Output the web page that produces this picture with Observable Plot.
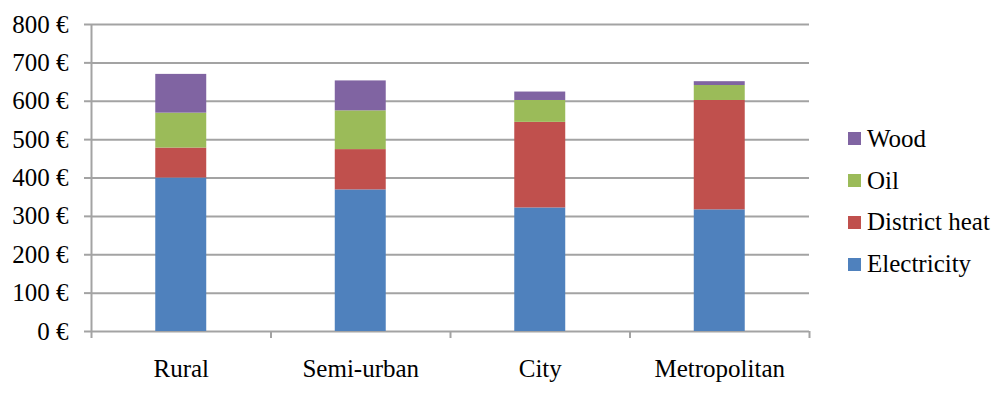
<!DOCTYPE html>
<html>
<head>
<meta charset="utf-8">
<script src="https://cdn.jsdelivr.net/npm/d3@7"></script>
<script src="https://cdn.jsdelivr.net/npm/@observablehq/plot@0.6"></script>
<style>
  body { margin: 0; background: #fff; }
  #wrap { position: relative; width: 1000px; height: 394px; font-family: "Liberation Serif", serif; }
  #legend { position: absolute; left: 848px; top: 118px; font-family: "Liberation Serif", serif; }
  .row { display: flex; align-items: center; height: 41.8px; font-size: 25px; color: #000; }
  .sw { width: 13px; height: 13px; margin-right: 6px; flex: none; }
  #wrap svg text { font-family: "Liberation Serif", serif; }
</style>
</head>
<body>
<div id="wrap"></div>
<script>
const categories = ["Rural", "Semi-urban", "City", "Metropolitan"];
const seriesNames = ["Electricity", "District heat", "Oil", "Wood"];
const electricity = [400, 369, 322, 317];
const districtHeat = [78, 105, 223, 285];
const oil = [91, 101, 57, 39];
const wood = [101, 78, 22, 10];
const colors = ["#4F81BD", "#C0504D", "#9BBB59", "#8064A2"];
const yTicks = [0, 100, 200, 300, 400, 500, 600, 700, 800];

const seriesValues = [electricity, districtHeat, oil, wood];
const data = [];
seriesNames.forEach((s, si) => {
  categories.forEach((c, ci) => {
    data.push({series: s, cat: c, i: ci, value: seriesValues[si][ci]});
  });
});
const boundaries = d3.range(categories.length + 1).map(k => k - 0.5);
const halfBar = 0.142;

const grid = "#a3a3a3";
const chart = Plot.plot({
  width: 1000,
  height: 394,
  marginLeft: 91,
  marginRight: 191,
  marginTop: 24,
  marginBottom: 63,
  style: {fontFamily: "Liberation Serif, serif", fontSize: "25px", color: "#000", background: "#fff"},
  x: {type: "linear", domain: [-0.5, categories.length - 0.5]},
  y: {domain: [0, 800]},
  color: {domain: seriesNames, range: colors},
  marks: [
    Plot.ruleY(yTicks, {y: d => d, x1: -0.5, x2: categories.length - 0.5, stroke: grid, strokeWidth: 2}),
    Plot.rectY(data, Plot.stackY({
      x: "i",
      x1: d => d.i - halfBar,
      x2: d => d.i + halfBar,
      y: "value",
      fill: "series",
      order: seriesNames
    })),
    Plot.ruleX([-0.5], {y1: 0, y2: 800, stroke: grid, strokeWidth: 2}),
    Plot.axisY({ticks: yTicks, tickSize: 7, tickPadding: 16, stroke: grid, strokeWidth: 2, tickFormat: d => `${d} €`, label: null, fill: "#000"}),
    Plot.axisX({ticks: boundaries, tickSize: 7, stroke: grid, strokeWidth: 2, tickFormat: () => "", label: null}),
    Plot.axisX({ticks: d3.range(categories.length), tickSize: 0, tickPadding: 28, tickFormat: i => categories[i], label: null, fill: "#000"})
  ]
});
const wrap = document.getElementById("wrap");
wrap.appendChild(chart);

const legend = document.createElement("div");
legend.id = "legend";
[...seriesNames].reverse().forEach(s => {
  const row = document.createElement("div");
  row.className = "row";
  const sw = document.createElement("span");
  sw.className = "sw";
  sw.style.background = colors[seriesNames.indexOf(s)];
  const t = document.createElement("span");
  t.textContent = s;
  row.appendChild(sw);
  row.appendChild(t);
  legend.appendChild(row);
});
wrap.appendChild(legend);
</script>
</body>
</html>
